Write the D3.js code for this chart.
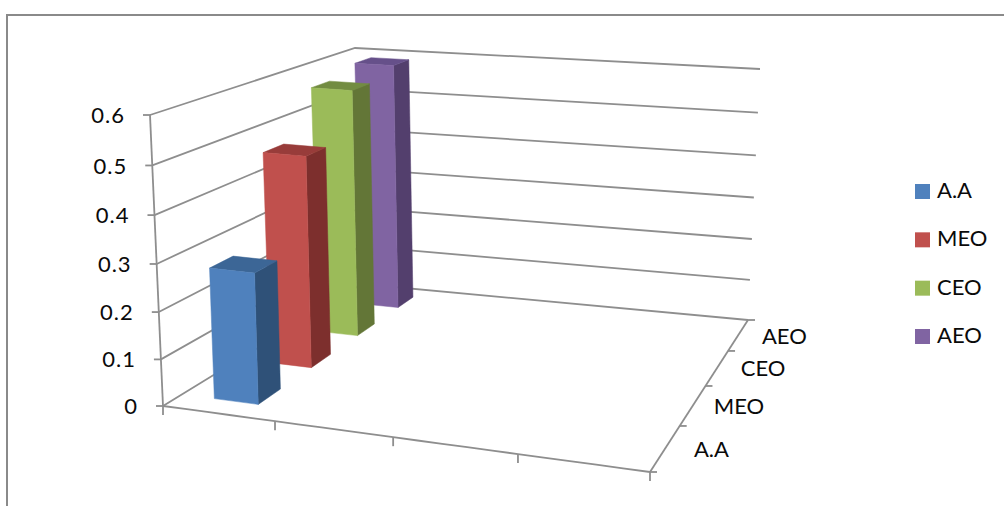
<!DOCTYPE html>
<html>
<head>
<meta charset="utf-8">
<script src="https://cdn.jsdelivr.net/npm/d3@7"></script>
<style>
html,body{margin:0;padding:0;background:#fff;overflow:hidden}
text{font-family:Lato,"Open Sans",sans-serif;font-size:22px;fill:#0a0a0a}
text.value-label{letter-spacing:1px}
</style>
</head>
<body>
<svg id="chart" width="1004" height="506"></svg>
<script>
const seriesNames = ["A.A", "MEO", "CEO", "AEO"];
const seriesValues = [0.28, 0.47, 0.57, 0.59];
const groupSlots = ["g1", "g2", "g3", "g4"];
const valueTicks = [0, 0.1, 0.2, 0.3, 0.4, 0.5, 0.6];
const frontColors = ["#4F81BD", "#C0504D", "#9BBB59", "#8064A2"];
const sideColors = ["#2F5178", "#7D2F2D", "#637637", "#533F6D"];
const topColors = ["#3C6696", "#983C3A", "#728C41", "#66508A"];
const axisGrey = "#8E8E8E";

const svg = d3.select("#chart");

// Outer chart border: only the top and left edges are visible
svg.append("path")
  .attr("d", d3.line()([[7, 506], [7, 15], [1004, 15]]))
  .attr("fill", "none").attr("stroke", "#8a8a8a").attr("stroke-width", 2);

// Corners of the 3D plot box in screen space: [x, y]
const box = {
  floorFrontLeft: [163, 406], floorFrontRight: [650, 472],
  floorBackLeft: [362, 284], floorBackRight: [748, 320],
  topFrontLeft: [150, 115], topFrontRight: [665, 162],
  topBackLeft: [355, 48], topBackRight: [760, 69]
};

// Perspective foreshortening along each direction of the box
const foreshorten = k => t => t / (t + k * (1 - t));
const warpX = foreshorten(1.116);
const warpV = foreshorten(1.049);
const warpZ = foreshorten(0.767);

const mix = (a, b, t) => [a[0] + (b[0] - a[0]) * t, a[1] + (b[1] - a[1]) * t];

// Maps unit box coordinates (x across, v up, z into the page) to the screen
function project(x, v, z) {
  const u = warpX(x), w = warpZ(z);
  const floor = mix(mix(box.floorFrontLeft, box.floorFrontRight, u),
                    mix(box.floorBackLeft, box.floorBackRight, u), w);
  const roof = mix(mix(box.topFrontLeft, box.topFrontRight, u),
                   mix(box.topBackLeft, box.topBackRight, u), w);
  return mix(floor, roof, warpV(v));
}

const yScale = d3.scaleLinear().domain([0, 0.6]).range([0, 1]);
const xScale = d3.scaleBand().domain(groupSlots).range([0, 1])
  .paddingInner(0.6).paddingOuter(0.3);
const zScale = d3.scaleBand().domain(seriesNames).range([0, 1])
  .paddingInner(0.6).paddingOuter(0.3);
const legendScale = d3.scalePoint().domain(seriesNames).range([191.5, 336.5]);

const line = d3.line();
const stroke = (pts, width = 1.8) => svg.append("path")
  .attr("d", line(pts)).attr("fill", "none")
  .attr("stroke", axisGrey).attr("stroke-width", width);

// Gridlines across the left wall and the back wall
valueTicks.forEach(t => {
  const v = yScale(t);
  stroke([project(0, v, 0), project(0, v, 1), project(1, v, 1)]);
});

// Value axis with outward ticks and labels
stroke([project(0, 0, 0), project(0, 1, 0)]);
valueTicks.forEach(t => {
  const p = project(0, yScale(t), 0);
  stroke([p, [p[0] - 7, p[1]]]);
  svg.append("text").attr("class", "value-label")
    .attr("x", p[0] - 25).attr("y", p[1] + 2.5)
    .attr("text-anchor", "end").attr("dominant-baseline", "middle")
    .text(d3.format(".1~f")(t));
});

// Width axis along the front of the floor
const xStep = xScale.step();
const xEdges = d3.range(groupSlots.length + 1).map(i => i * xStep);
stroke(d3.range(0, 1.001, 0.05).map(t => project(t, 0, 0)));
xEdges.forEach(t => {
  const p = project(t, 0, 0);
  stroke([p, [p[0], p[1] + 9]]);
});

// Depth axis along the right of the floor
const zStep = zScale.step();
stroke([project(1, 0, 0), project(1, 0, 1)]);
d3.range(seriesNames.length + 1).forEach(i => {
  const p = project(1, 0, i * zStep);
  stroke([p, [p[0] + 7, p[1]]]);
});
seriesNames.forEach(name => {
  const p = project(1, 0, zScale(name) + zScale.bandwidth() / 2);
  svg.append("text").attr("x", p[0] + 46).attr("y", p[1] + 3)
    .attr("text-anchor", "middle").attr("dominant-baseline", "middle")
    .text(name);
});

// Columns, painted from the back of the box to the front
const x0 = xScale(groupSlots[0]), x1 = x0 + xScale.bandwidth();
d3.range(seriesNames.length - 1, -1, -1).forEach(i => {
  const z0 = zScale(seriesNames[i]), z1 = z0 + zScale.bandwidth();
  const v = yScale(seriesValues[i]);
  const face = (pts, color) => svg.append("path")
    .attr("d", line(pts) + "Z").attr("fill", color)
    .attr("stroke", color).attr("stroke-width", 0.5);
  face([project(x1, 0, z0), project(x1, 0, z1), project(x1, v, z1), project(x1, v, z0)], sideColors[i]);
  face([project(x0, v, z0), project(x1, v, z0), project(x1, v, z1), project(x0, v, z1)], topColors[i]);
  face([project(x0, 0, z0), project(x1, 0, z0), project(x1, v, z0), project(x0, v, z0)], frontColors[i]);
});

// Legend
seriesNames.forEach((name, i) => {
  const cy = legendScale(name);
  svg.append("rect").attr("x", 915).attr("y", cy - 7.5)
    .attr("width", 15).attr("height", 15).attr("fill", frontColors[i]);
  svg.append("text").attr("x", 937).attr("y", cy + 1)
    .attr("dominant-baseline", "middle").text(name);
});
</script>
</body>
</html>
